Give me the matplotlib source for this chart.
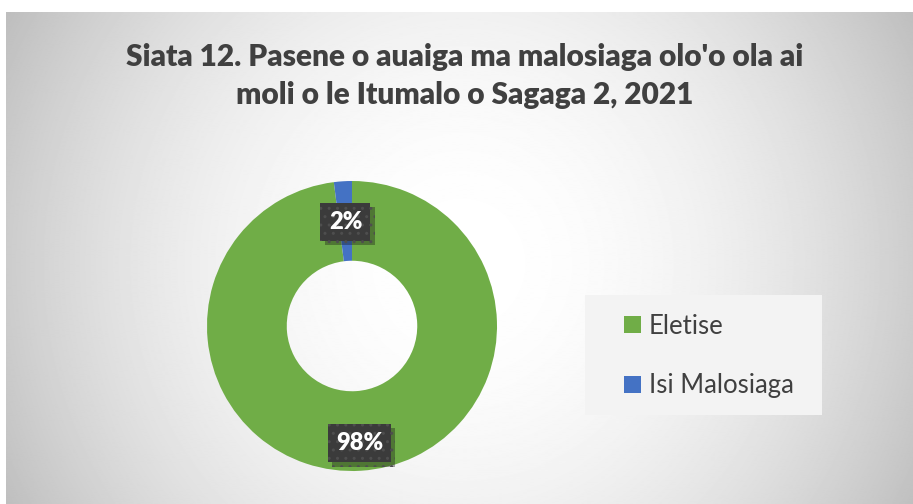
import numpy as np
import matplotlib
matplotlib.use("Agg")
import matplotlib.pyplot as plt
import matplotlib.patheffects as pe
from matplotlib.patches import Rectangle


# chart data
categories = ["Eletise", "Isi Malosiaga"]
shares = [98, 2]
pct_labels = ["98%", "2%"]

TITLE = "Siata 12. Pasene o auaiga ma malosiaga olo'o ola ai\nmoli o le Itumalo o Sagaga 2, 2021"

GREEN = "#70ad47"
BLUE = "#4472c4"
TEXT_GRAY = "#404040"

W, H, DPI = 913, 504, 100

plt.rcParams["font.family"] = ["Lato", "DejaVu Sans"]

fig = plt.figure(figsize=(W / DPI, H / DPI), dpi=DPI)

# radial gray gradient for the chart area
bg = fig.add_axes([6 / W, 0, 1 - 6 / W, 1 - 12 / H])
bg.set_axis_off()
yy, xx = np.mgrid[0:480, 0:907]
r = np.hypot(xx - 455, yy - 245) / 520.0
shade = 1.0 - 0.26 * r ** 2
bg.imshow(shade, cmap="gray", vmin=0, vmax=1, aspect="auto",
          extent=(0, 1, 0, 1), interpolation="bilinear")
bg.set_xlim(0, 1)
bg.set_ylim(0, 1)

fig.text(465 / W, 1 - 76 / H, TITLE, ha="center", va="center", fontsize=21.5,
         fontweight="heavy", color=TEXT_GRAY, linespacing=1.4)

# donut
cx, cy, rad = 352, 504 - 326, 145
half = 1.1 * rad
ax = fig.add_axes([(cx - half) / W, (cy - half) / H, 2 * half / W, 2 * half / H])
wedges, _ = ax.pie(shares, colors=[GREEN, BLUE], startangle=90,
                   counterclock=False,
                   wedgeprops=dict(width=0.55, edgecolor="none"))
ax.set_xlim(-1.1, 1.1)
ax.set_ylim(-1.1, 1.1)
ax.set_aspect("equal")
ax.set_axis_off()

# data labels in dark boxes
label_dist = [0.81, 0.72]
for w, txt, d in zip(wedges, pct_labels, label_dist):
    ang = np.deg2rad((w.theta1 + w.theta2) / 2)
    t = ax.text(d * np.cos(ang), d * np.sin(ang), txt, ha="center", va="center",
                fontsize=17, fontweight="heavy", color="white",
                bbox=dict(boxstyle="square,pad=0.35", fc="#3b3b3b", ec="#4e4e4e",
                          lw=0, hatch=".."))
    t.get_bbox_patch().set_path_effects([
        pe.SimplePatchShadow(offset=(3, -3), alpha=0.35),
        pe.Normal(),
    ])

# legend with its own light panel
fig.patches.append(Rectangle((585 / W, 1 - 415 / H), 237 / W, 120 / H,
                             transform=fig.transFigure, fc="#f3f3f3",
                             ec="none", zorder=0.5))
fig.legend(wedges, categories, loc="center left",
           bbox_to_anchor=(601 / W, 1 - 356 / H), frameon=False,
           fontsize=18.5, labelcolor=TEXT_GRAY, handlelength=0.65,
           handleheight=0.65, handletextpad=0.3, labelspacing=1.35)

fig.savefig("out.png", dpi=DPI)
